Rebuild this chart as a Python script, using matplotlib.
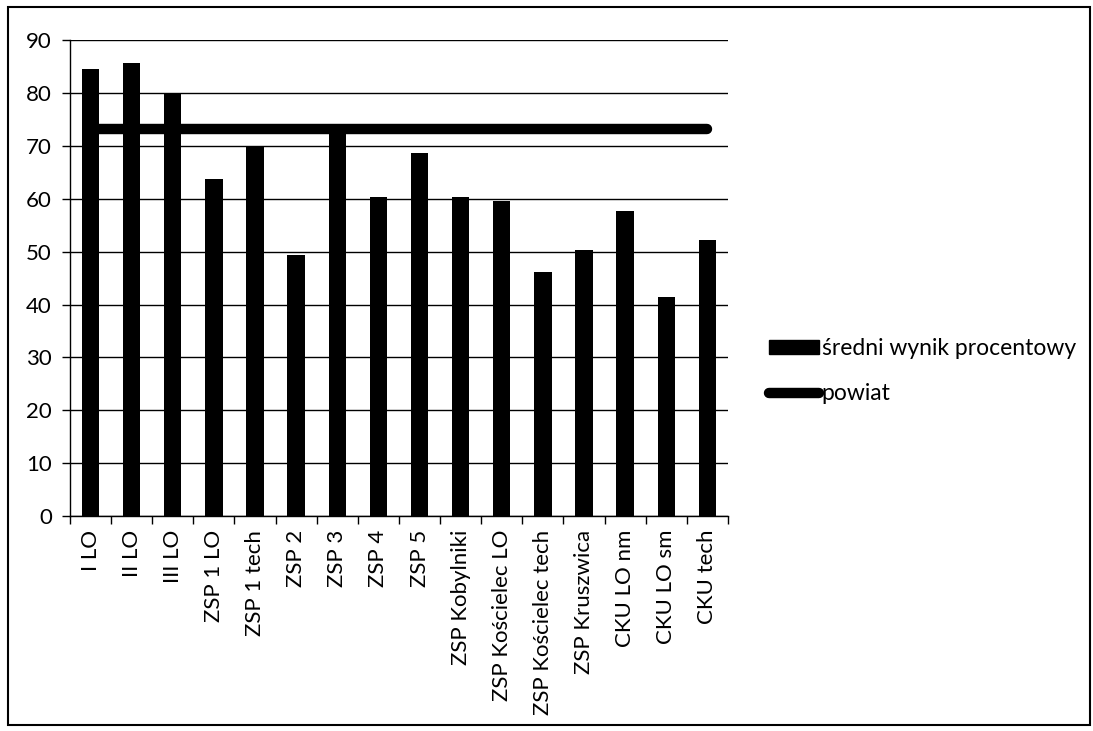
import numpy as np
import matplotlib
matplotlib.use("Agg")
import matplotlib.pyplot as plt
from matplotlib.patches import Rectangle
from matplotlib.lines import Line2D

plt.rcParams['font.family'] = ['Lato', 'DejaVu Sans']

categories = ["I LO", "II LO", "III LO", "ZSP 1 LO", "ZSP 1 tech", "ZSP 2", "ZSP 3",
              "ZSP 4", "ZSP 5", "ZSP Kobylniki", "ZSP Kościelec LO",
              "ZSP Kościelec tech", "ZSP Kruszwica", "CKU LO nm", "CKU LO sm", "CKU tech"]
sredni = [84.5, 85.6, 80.0, 63.7, 70.0, 49.4, 72.5, 60.3, 68.7, 60.3, 59.6,
          46.1, 50.4, 57.7, 41.5, 52.3]
powiat = [73.2] * len(categories)
yticks = [0, 10, 20, 30, 40, 50, 60, 70, 80, 90]

fig = plt.figure(figsize=(10.93, 7.31), dpi=100)
ax = fig.add_axes([0.064, 0.294, 0.602, 0.651])

x = np.arange(len(categories))
ax.bar(x, sredni, width=0.42, color='black', zorder=3, label='średni wynik procentowy')
ax.plot(x, powiat, color='black', lw=7.5, solid_capstyle='round', zorder=4, label='powiat')

#==========================================
ax.set_xlim(-0.5, len(categories) - 0.5)
ax.set_ylim(0, 90)
ax.set_yticks(yticks)
ax.tick_params(axis='y', labelsize=16, length=6, width=1, direction='out', pad=7)
ax.set_xticks(x)
ax.set_xticklabels(categories, rotation=90, fontsize=16)
ax.tick_params(axis='x', which='major', length=0, pad=10)
ax.set_xticks(np.arange(-0.5, len(categories), 1), minor=True)
ax.tick_params(axis='x', which='minor', length=6, width=1, direction='out')
ax.grid(axis='y', color='black', lw=1, zorder=0)
for s in ['top', 'right']:
    ax.spines[s].set_visible(False)
ax.spines['left'].set_linewidth(1)
ax.spines['bottom'].set_linewidth(1)

handles = [Rectangle((0, 0), 1, 1, color='black'),
           Line2D([], [], color='black', lw=7.5, solid_capstyle='round')]
fig.legend(handles, ['średni wynik procentowy', 'powiat'], loc='center left',
           bbox_to_anchor=(769 / 1093, 0.4925), frameon=False, fontsize=16.5,
           borderpad=0, borderaxespad=0, handlelength=2.2, handleheight=0.55,
           handletextpad=0.1, labelspacing=1.05)

# outer frame
fig.patches.append(Rectangle((0.007, 0.008), 0.99, 0.982, transform=fig.transFigure,
                             fill=False, edgecolor='black', lw=1.5))

fig.savefig("out.png", dpi=100)
